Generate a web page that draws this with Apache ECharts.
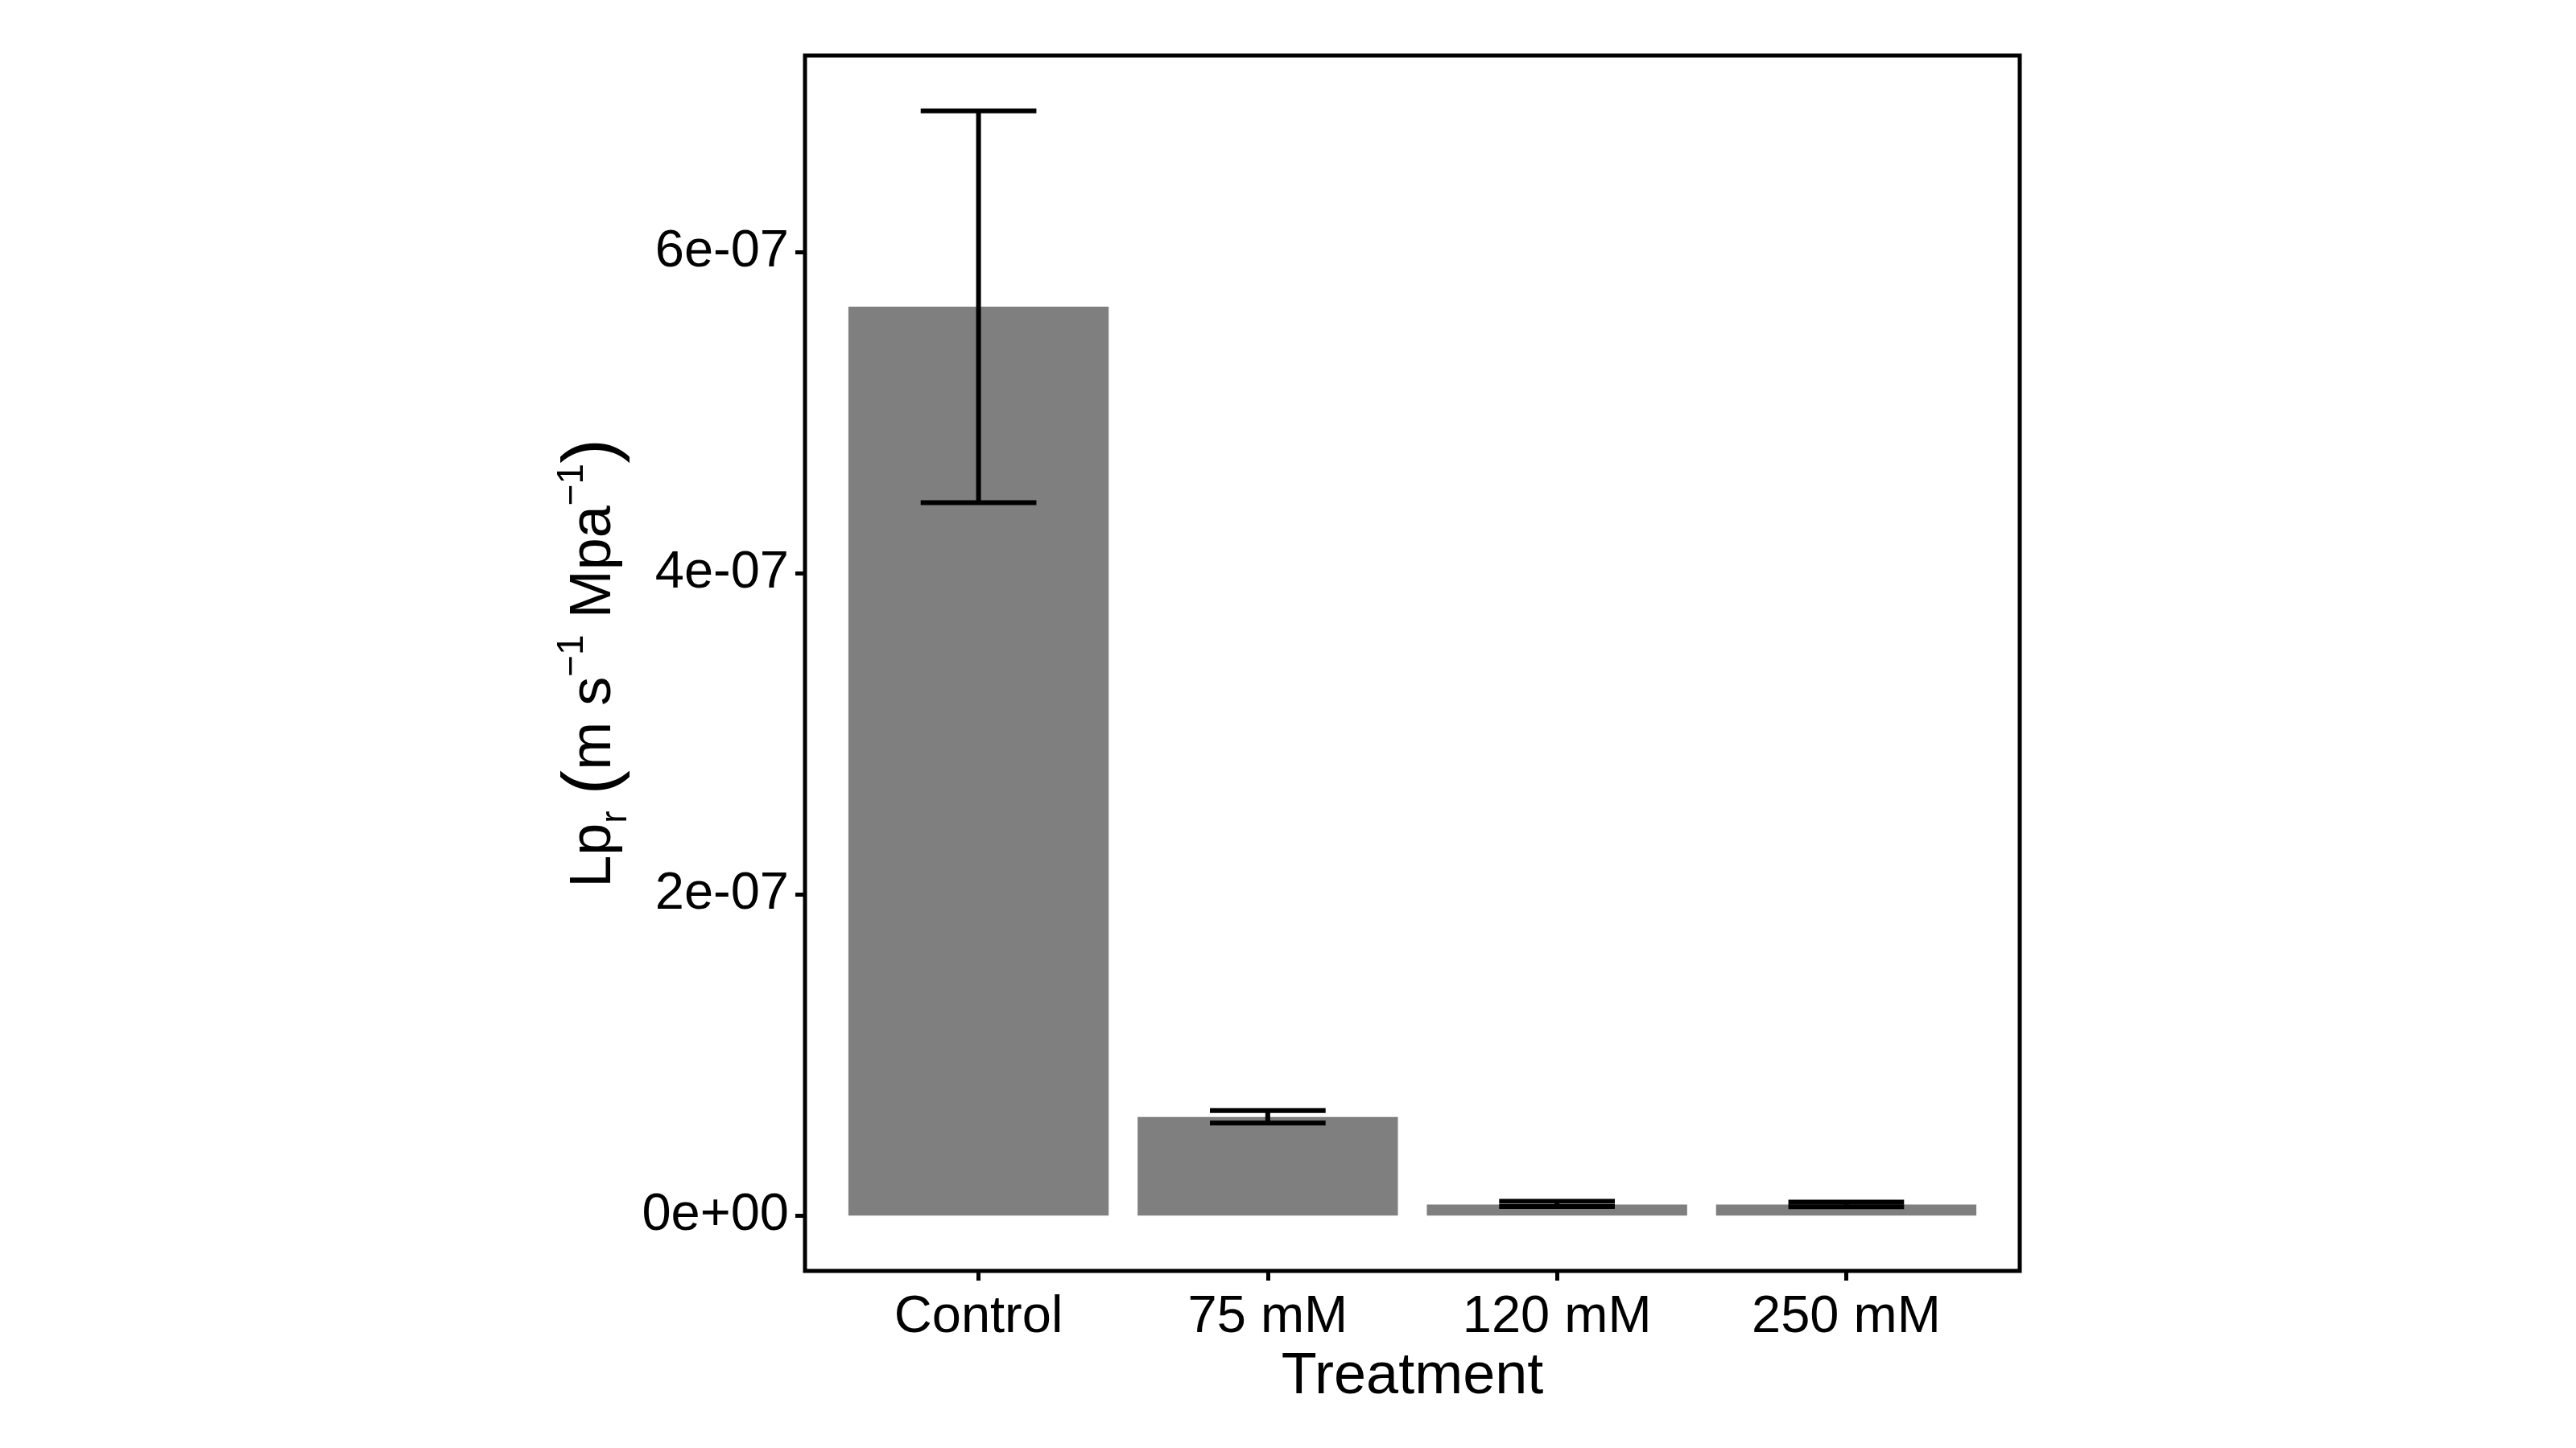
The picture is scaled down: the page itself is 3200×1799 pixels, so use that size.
<!DOCTYPE html>
<html>
<head>
<meta charset="utf-8">
<script src="https://cdn.jsdelivr.net/npm/echarts@6/dist/echarts.min.js"></script>
<style>
  html, body { margin: 0; padding: 0; background: #ffffff; }
  #chart { width: 3200px; height: 1799px; }
</style>
</head>
<body>
<div id="chart"></div>
<script>
// ---- data ----
const categories = ['Control', '75 mM', '120 mM', '250 mM'];
const meanValues = [5.66e-7, 6.15e-8, 7.0e-9, 6.9e-9];
const lowerValues = [4.44e-7, 5.77e-8, 5.7e-9, 5.6e-9];
const upperValues = [6.88e-7, 6.55e-8, 8.9e-9, 8.4e-9];
const yTickValues = [0, 2e-7, 4e-7, 6e-7];
const yTickLabels = ['0e+00', '2e-07', '4e-07', '6e-07'];

// ---- layout constants ----
const FONT = '"Liberation Sans", Arial, Helvetica, sans-serif';
const BAR_HALF = 0.45;
const ERR_HALF = 0.2;
const xPositions = categories.map((c, i) => i + 1);

const chart = echarts.init(document.getElementById('chart'), null, { renderer: 'canvas' });

const option = {
  backgroundColor: '#ffffff',
  animation: false,
  grid: {
    left: 1000, top: 69, width: 1509, height: 1510,
    show: true, borderColor: '#000000', borderWidth: 5, backgroundColor: 'transparent',
    containLabel: false
  },
  xAxis: {
    type: 'value', min: 0.4, max: 4.6,
    splitLine: { show: false },
    axisLine: { show: false, onZero: false },
    axisTick: { show: true, inside: false, length: 12, lineStyle: { color: '#000', width: 5 }, customValues: xPositions },
    axisLabel: {
      customValues: xPositions, margin: 26,
      fontSize: 65, lineHeight: 65, color: '#000', fontFamily: FONT,
      formatter: v => categories[Math.round(v) - 1] || ''
    },
    name: 'Treatment', nameLocation: 'middle', nameGap: 82,
    nameTextStyle: { fontSize: 72, lineHeight: 72, color: '#000', fontFamily: FONT }
  },
  yAxis: {
    type: 'value', min: -3.44e-8, max: 7.224e-7,
    splitLine: { show: false },
    axisLine: { show: false, onZero: false },
    axisTick: { show: true, inside: false, length: 12, lineStyle: { color: '#000', width: 5 }, customValues: yTickValues },
    axisLabel: {
      customValues: yTickValues, margin: 20,
      fontSize: 65, color: '#000', fontFamily: FONT,
      padding: [6, 0, 0, 0],
      formatter: v => {
        let best = 0;
        yTickValues.forEach((t, i) => { if (Math.abs(t - v) < Math.abs(yTickValues[best] - v)) best = i; });
        return yTickLabels[best];
      }
    },
    name: '{b|Lp}{s|r}{b| }{p|(}{b|m s}{u|−1}{b| Mpa}{u|−1}{p|)}',
    nameLocation: 'middle', nameRotate: 90, nameGap: 212,
    nameTextStyle: {
      color: '#000', fontFamily: FONT,
      rich: {
        b: { fontSize: 72, lineHeight: 100, verticalAlign: 'middle', color: '#000', fontFamily: FONT },
        p: { fontSize: 92, lineHeight: 100, verticalAlign: 'middle', color: '#000', fontFamily: FONT },
        u: { fontSize: 46, lineHeight: 44, verticalAlign: 'top', color: '#000', fontFamily: FONT },
        s: { fontSize: 46, lineHeight: 66, verticalAlign: 'bottom', color: '#000', fontFamily: FONT }
      }
    }
  },
  series: [
    {
      type: 'custom',
      name: 'bars',
      z: 2,
      data: categories.map((c, i) => [xPositions[i], meanValues[i]]),
      renderItem: function (params, api) {
        const x = api.value(0), y = api.value(1);
        const p0 = api.coord([x - BAR_HALF, y]);
        const p1 = api.coord([x + BAR_HALF, 0]);
        return {
          type: 'rect',
          shape: { x: p0[0], y: p0[1], width: p1[0] - p0[0], height: p1[1] - p0[1] },
          style: { fill: '#7f7f7f' }
        };
      }
    },
    {
      type: 'custom',
      name: 'errors',
      z: 3,
      data: categories.map((c, i) => [xPositions[i], lowerValues[i], upperValues[i]]),
      renderItem: function (params, api) {
        const x = api.value(0), lo = api.value(1), hi = api.value(2);
        const top = api.coord([x, hi]);
        const bot = api.coord([x, lo]);
        const l = api.coord([x - ERR_HALF, hi])[0];
        const r = api.coord([x + ERR_HALF, hi])[0];
        const st = { stroke: '#000000', lineWidth: 6, lineCap: 'butt' };
        return {
          type: 'group',
          children: [
            { type: 'line', shape: { x1: top[0], y1: top[1], x2: bot[0], y2: bot[1] }, style: st },
            { type: 'line', shape: { x1: l, y1: top[1], x2: r, y2: top[1] }, style: st },
            { type: 'line', shape: { x1: l, y1: bot[1], x2: r, y2: bot[1] }, style: st }
          ]
        };
      }
    }
  ]
};

chart.setOption(option);
</script>
</body>
</html>
